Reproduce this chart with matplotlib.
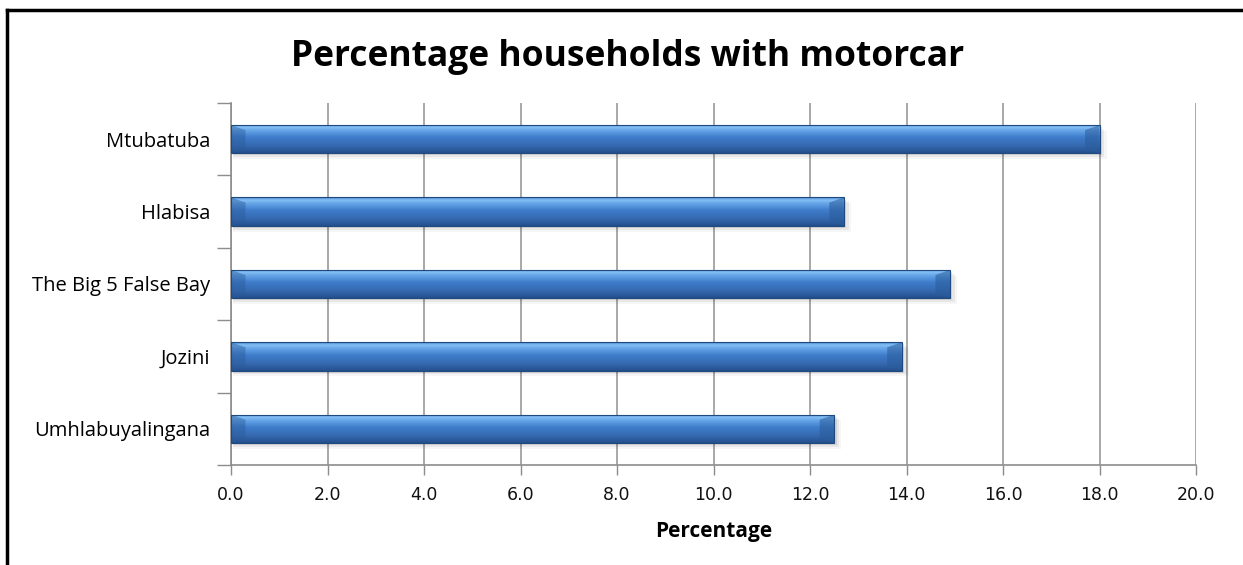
import matplotlib
matplotlib.use("Agg")
import matplotlib.pyplot as plt
import numpy as np
from matplotlib.patches import Rectangle
from matplotlib.lines import Line2D

categories = ["Umhlabuyalingana", "Jozini", "The Big 5 False Bay", "Hlabisa", "Mtubatuba"]
values = [12.5, 13.9, 14.9, 12.7, 18.0]
xticks = [0, 2, 4, 6, 8, 10, 12, 14, 16, 18, 20]
xticklabels = ["%.1f" % t for t in xticks]
title = "Percentage households with motorcar"
xlabel = "Percentage"

W, H = 1243, 565
fig = plt.figure(figsize=(W / 100, H / 100), dpi=100)
fig.patch.set_facecolor("white")
ax = fig.add_axes([231 / W, 1 - 465 / H, (1196 - 231) / W, (465 - 103) / H])

bar_h = 0.39
ypos = np.arange(len(categories))
ax.set_xlim(0, 20)
ax.set_ylim(-0.5, len(categories) - 0.5)

cmap = matplotlib.colors.LinearSegmentedColormap.from_list(
    "bar", [(0.0, "#24508c"), (0.25, "#3569b0"), (0.55, "#3f7dcb"), (0.8, "#68a8ea"), (0.9, "#85c0f5"), (1.0, "#4d8ad2")])
grad = np.linspace(0, 1, 64).reshape(-1, 1)

for y, v in zip(ypos, values):
    for k, a in enumerate([0.09, 0.06, 0.035]):
        sh = Rectangle((0.05, y - bar_h / 2 - 0.03 - 0.025 * k), v + 0.05 * k, bar_h,
                       facecolor="#000000", alpha=a, edgecolor="none", zorder=2)
        ax.add_patch(sh)
    rect = Rectangle((0, y - bar_h / 2), v, bar_h, facecolor="none",
                     edgecolor="#1f4a80", linewidth=0.8, zorder=4)
    ax.add_patch(rect)
    im = ax.imshow(grad, extent=[0, v, y - bar_h / 2, y + bar_h / 2], origin="lower",
                   cmap=cmap, aspect="auto", zorder=3, interpolation="bilinear")
    im.set_clip_path(rect)
    ax.fill([v, v - 0.3, v - 0.3, v], [y + bar_h / 2, y + bar_h / 2 - 0.07, y - bar_h / 2 + 0.05, y - bar_h / 2],
            color="#2a5b9a", alpha=0.55, zorder=3.5, linewidth=0)
    ax.fill([0, 0.3, 0.3, 0], [y + bar_h / 2, y + bar_h / 2 - 0.07, y - bar_h / 2 + 0.05, y - bar_h / 2],
            color="#2a5b9a", alpha=0.45, zorder=3.5, linewidth=0)

ax.set_xlim(0, 20)
ax.set_ylim(-0.5, len(categories) - 0.5)

ax.set_xticks(xticks)
ax.set_xticklabels(xticklabels, fontsize=12.5, family="DejaVu Sans", color="#111111")
ax.set_yticks(ypos)
ax.set_yticklabels(categories, fontsize=14.5, family="Open Sans", color="#000000")
ax.set_yticks(np.arange(-0.5, len(categories), 1.0), minor=True)
ax.tick_params(axis="y", which="major", length=0, pad=15)
ax.tick_params(axis="y", which="minor", length=10, color="#8c8c8c", width=1)
ax.tick_params(axis="x", which="major", length=7, color="#8c8c8c", width=1, pad=8)

ax.grid(axis="x", color="#9a9a9a", linewidth=1.2, zorder=1)
ax.set_axisbelow(True)
for s in ["top", "right"]:
    ax.spines[s].set_visible(False)
for s in ["left", "bottom"]:
    ax.spines[s].set_color("#8c8c8c")
    ax.spines[s].set_linewidth(1.2)

ax.set_xlabel(xlabel, fontsize=15, fontweight="bold", family="Open Sans", labelpad=12)

fig.text(628 / W, 1 - 57 / H, title, ha="center", va="center", fontsize=25.5,
         fontweight="bold", family="Open Sans")

fig.add_artist(Line2D([7 / W, 1.0], [1 - 10 / H, 1 - 10 / H], color="black", linewidth=2.5, transform=fig.transFigure))
fig.add_artist(Line2D([7 / W, 7 / W], [0, 1 - 10 / H], color="black", linewidth=2.5, transform=fig.transFigure))

fig.savefig("out.png", dpi=100, facecolor="white")
